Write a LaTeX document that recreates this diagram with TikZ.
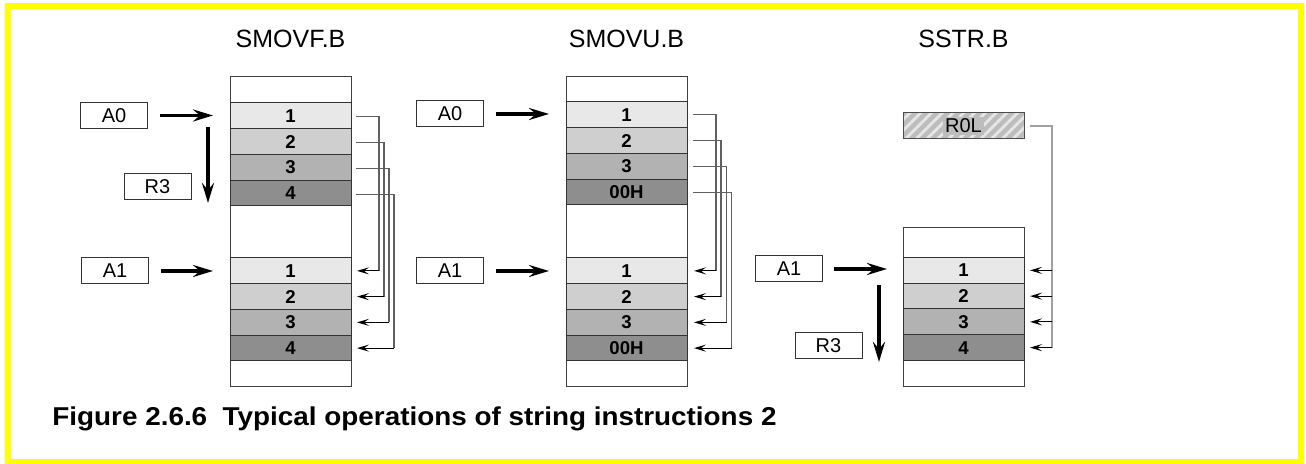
\documentclass[tikz,border=0pt]{standalone}
\usepackage{fontspec}
\setmainfont{Liberation Sans}
\newfontfamily\capfont[FakeStretch=1.08]{Liberation Sans}
\usetikzlibrary{arrows.meta,patterns.meta}
\definecolor{frameyellow}{HTML}{FFFF00}
\definecolor{gA}{HTML}{E8E8E8}
\definecolor{gB}{HTML}{CFCFCF}
\definecolor{gC}{HTML}{B2B2B2}
\definecolor{gD}{HTML}{8E8E8E}
\definecolor{linkgray}{HTML}{606060}
\definecolor{rlinkgray}{HTML}{A0A0A0}
\definecolor{rfill}{HTML}{BDBDBD}
\definecolor{rstripe}{HTML}{E6E6E6}
\begin{document}
\begin{tikzpicture}[x=0.5pt,y=-0.5pt,
  memframe/.style={draw=black!75, line width=0.5pt, minimum width=60.5pt, inner sep=0pt, outer sep=0pt, anchor=north west},
  cell/.style={draw=black!80, line width=0.5pt, minimum width=60.5pt, minimum height=12.875pt, inner sep=0pt, outer sep=0pt, anchor=north west, font=\bfseries\fontsize{9.3pt}{9.3pt}\selectfont},
  cA/.style={cell, fill=gA}, cB/.style={cell, fill=gB}, cC/.style={cell, fill=gC}, cD/.style={cell, fill=gD},
  reg/.style={draw=black!80, line width=0.5pt, minimum width=33.5pt, minimum height=13pt, inner sep=0pt, outer sep=0pt, font=\fontsize{10pt}{10pt}\selectfont},
  title/.style={anchor=base, inner sep=0pt, font=\fontsize{12.5pt}{13pt}\selectfont},
  big/.style={-{Stealth[length=10pt,width=6pt,inset=3.5pt]}, line width=1.8pt, black},
  link/.style={draw=linkgray, line width=0.6pt},
  rlink/.style={draw=rlinkgray, line width=0.6pt},
  tip/.style={-{Stealth[length=6pt,width=3.5pt,inset=2.5pt]}, line width=0.6pt, black}]
\useasboundingbox (0,0) rectangle (1306,464);
\fill[white] (0,0) rectangle (1306,464);
\draw[frameyellow, line width=3pt] (8,6) rectangle (1300.5,462);

% titles
\node[title] (tA) at (290.5,48) {SMOVF.B};
\node[title] (tB) at (626.5,48) {SMOVU.B};
\node[title] (tC) at (963.5,48) {SSTR.B};

% column frames
\node[memframe, minimum height=155pt] (m1) at (230,77) {};
\node[memframe, minimum height=155pt] (m2) at (566,77) {};
\node[memframe, minimum height=79.5pt] (m3) at (903,228) {};

% column 1 cells
\node[cA] (u11) at (230,103) {1};
\node[cB] (u12) at (230,128.75) {2};
\node[cC] (u13) at (230,154.5) {3};
\node[cD] (u14) at (230,180.25) {4};
\node[cA] (l11) at (230,258) {1};
\node[cB] (l12) at (230,283.75) {2};
\node[cC] (l13) at (230,309.5) {3};
\node[cD] (l14) at (230,335.25) {4};

% column 2 cells
\node[cA] (u21) at (566,102) {1};
\node[cB] (u22) at (566,127.75) {2};
\node[cC] (u23) at (566,153.5) {3};
\node[cD] (u24) at (566,179.25) {00H};
\node[cA] (l21) at (566,258) {1};
\node[cB] (l22) at (566,283.75) {2};
\node[cC] (l23) at (566,309.5) {3};
\node[cD] (l24) at (566,335.25) {00H};

% column 3 cells
\node[cA] (l31) at (903,257.5) {1};
\node[cB] (l32) at (903,283.25) {2};
\node[cC] (l33) at (903,309) {3};
\node[cD] (l34) at (903,334.75) {4};

% registers
\node[reg] (A0a) at (114,115.5) {A0};
\node[reg] (R3a) at (157.5,186.5) {R3};
\node[reg] (A1a) at (115,271) {A1};
\node[reg] (A0b) at (450,114) {A0};
\node[reg] (A1b) at (450,271) {A1};
\node[reg] (A1c) at (789,269) {A1};
\node[reg] (R3c) at (828.5,345.5) {R3};
\node[draw=black!70, line width=0.5pt, minimum width=60.5pt, minimum height=13pt, inner sep=0pt, outer sep=0pt, anchor=north west,
      preaction={fill=rfill}, preaction={pattern={Lines[angle=45,distance=3.8pt,line width=1.4pt]}, pattern color=rstripe},
      font=\fontsize{10pt}{10pt}\selectfont] (R0L) at (903,113) {\setlength{\fboxsep}{1pt}\colorbox{rfill}{R0L}};

% thick arrows
\coordinate (ta1) at ([xshift=-8.5pt]u11.west);
\coordinate (ta2) at ([xshift=-8.5pt]l11.west);
\coordinate (tb1) at ([xshift=-8.5pt]u21.west);
\coordinate (tb2) at ([xshift=-8.5pt]l21.west);
\coordinate (tc2) at ([xshift=-8pt]l31.west);
\draw[big] ([xshift=6pt]A0a.east) -- (A0a.east -| ta1);
\draw[big] ([xshift=6pt]A1a.east) -- (A1a.east -| ta2);
\draw[big] ([xshift=6pt]A0b.east) -- (A0b.east -| tb1);
\draw[big] ([xshift=6pt]A1b.east) -- (A1b.east -| tb2);
\draw[big] ([xshift=5.5pt]A1c.east) -- (A1c.east -| tc2);
\coordinate (d1s) at (208,127);
\coordinate (d1e) at (208,203);
\draw[big] (d1s) -- (d1e);
\coordinate (d3s) at (879,285);
\coordinate (d3e) at (879,362);
\draw[big] (d3s) -- (d3e);

% copy connectors, column 1
\foreach \i/\o in {1/14,2/16.5,3/19,4/21.5} {
  \coordinate (k1\i) at ([xshift=\o pt, yshift=-0.5pt]u1\i.east);
  \draw[link] ([xshift=2.5pt, yshift=-0.5pt]u1\i.east) -- (k1\i) -- (k1\i |- l1\i.east);
  \draw[tip] (k1\i |- l1\i.east) -- ([xshift=3pt]l1\i.east);
}
% copy connectors, column 2
\foreach \i/\o in {1/14.5,2/17,3/19.75,4/22.25} {
  \coordinate (k2\i) at ([xshift=\o pt]u2\i.east);
  \draw[link] ([xshift=3pt]u2\i.east) -- (k2\i) -- (k2\i |- l2\i.east);
  \draw[tip] (k2\i |- l2\i.east) -- ([xshift=3.5pt]l2\i.east);
}
% fill connectors, column 3
\coordinate (kr) at ([xshift=14pt]R0L.east);
\draw[rlink] ([xshift=3pt]R0L.east) -- (kr) -- (kr |- l34.east);
\foreach \i in {1,2,3,4} {
  \draw[tip] (kr |- l3\i.east) -- ([xshift=3pt]l3\i.east);
}

% caption
\node[anchor=base west, inner sep=0pt, font=\capfont\bfseries\fontsize{12.9pt}{14pt}\selectfont] (cap) at (52,426)
  {Figure 2.6.6\ \ Typical operations of string instructions 2};
\end{tikzpicture}
\end{document}
